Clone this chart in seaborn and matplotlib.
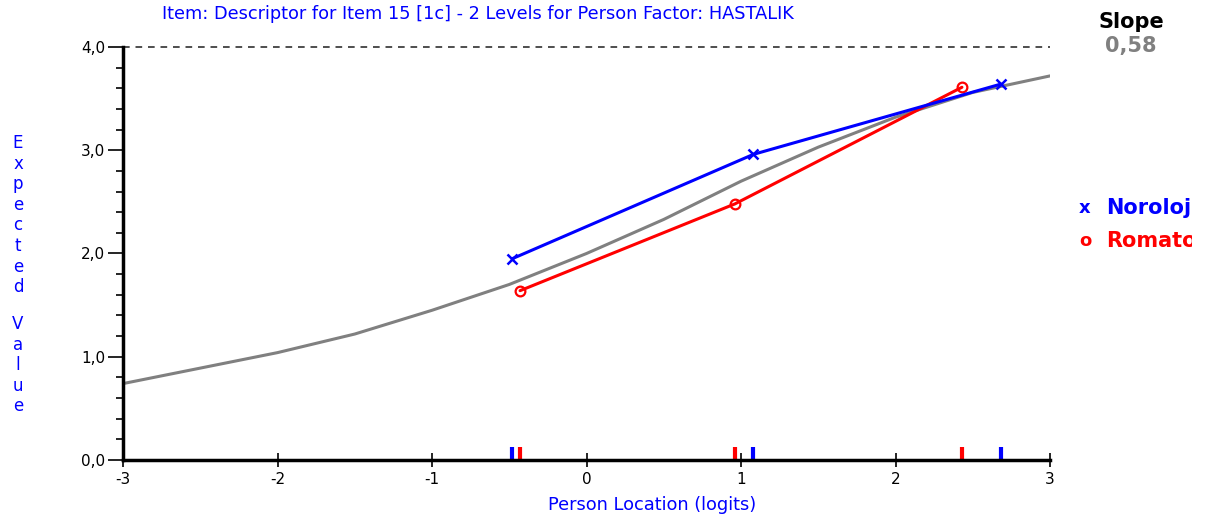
import numpy as np
import pandas as pd
import seaborn as sns
import matplotlib.pyplot as plt
from matplotlib.ticker import MultipleLocator, FuncFormatter
from matplotlib.transforms import Bbox

# expected value curve (model ICC)
icc_x = [-3.0, -2.5, -2.0, -1.5, -1.0, -0.5, 0.0, 0.5, 1.0, 1.5, 2.0, 2.5, 3.0]
icc_y = [0.74, 0.89, 1.04, 1.22, 1.45, 1.70, 2.00, 2.33, 2.70, 3.03, 3.32, 3.56, 3.72]

# observed class means per group
noro_x = [-0.48, 1.08, 2.68]
noro_y = [1.95, 2.96, 3.64]
roma_x = [-0.43, 0.96, 2.43]
roma_y = [1.64, 2.48, 3.61]

group_names = ["Noroloji", "Romatoloji"]
slope_txt = "0,58"
title_txt = "Item: Descriptor for Item 15 [1c] - 2 Levels for Person Factor: HASTALIK"

BLUE = "#0000ff"
RED = "#ff0000"
GRAY = "#808080"

sns.set_style("white")
plt.rcParams['font.family'] = ['DejaVu Sans']

W, H = 1207, 519
fig = plt.figure(figsize=(W/100, H/100), dpi=100)
ax = fig.add_axes([123/W, 1-460/H, (1050-123)/W, (460-47)/H])

icc = pd.DataFrame({"x": icc_x, "y": icc_y})
sns.lineplot(data=icc, x="x", y="y", color=GRAY, lw=2.2, ax=ax, zorder=2)
sns.lineplot(x=roma_x, y=roma_y, color=RED, lw=2.2, marker="o", markersize=7,
             markerfacecolor="none", markeredgecolor=RED, markeredgewidth=1.6, ax=ax, zorder=3)
sns.lineplot(x=noro_x, y=noro_y, color=BLUE, lw=2.2, marker="x", markersize=7,
             markeredgecolor=BLUE, markeredgewidth=1.8, ax=ax, zorder=4)

sns.rugplot(x=noro_x, height=0.032, color=BLUE, linewidth=3, ax=ax, clip_on=False)
sns.rugplot(x=roma_x, height=0.032, color=RED, linewidth=3, ax=ax, clip_on=False)

ax.axhline(4.0, color="#303030", lw=1.2, ls=(0, (4, 3.5)), zorder=1, clip_on=False)

ax.set_xlim(-3, 3)
ax.set_ylim(0, 4)
ax.set_xlabel("")
ax.set_ylabel("")
for s in ["top", "right"]:
    ax.spines[s].set_visible(False)
for s in ["left", "bottom"]:
    ax.spines[s].set_color("black")
    ax.spines[s].set_linewidth(2.5)

ax.xaxis.set_major_locator(MultipleLocator(1))
ax.yaxis.set_major_locator(MultipleLocator(1))
ax.yaxis.set_minor_locator(MultipleLocator(0.2))
ax.yaxis.set_major_formatter(FuncFormatter(lambda v, p: f"{v:.1f}".replace(".", ",")))
ax.xaxis.set_major_formatter(FuncFormatter(lambda v, p: f"{v:.0f}"))
ax.tick_params(axis="y", which="major", direction="out", length=11, width=1.2, labelsize=11,
               pad=2, left=True, color="black", labelcolor="black")
ax.tick_params(axis="y", which="minor", direction="out", length=5, width=1.2, left=True, color="black")
ax.tick_params(axis="x", which="major", direction="inout", length=10, width=1.2, labelsize=11,
               pad=4, bottom=True, color="black", labelcolor="black")

fig.text(478/W, 1-14/H, title_txt, color=BLUE, fontsize=12.8, ha="center", va="center")
fig.text(652/W, 1-505/H, "Person Location (logits)", color=BLUE, fontsize=12.8, ha="center", va="center")
for i, ch in enumerate("Expected"):
    fig.text(18/W, 1-(143 + 20.6*i)/H, ch, color=BLUE, fontsize=12, ha="center", va="center")
for i, ch in enumerate("Value"):
    fig.text(18/W, 1-(324 + 20.6*i)/H, ch, color=BLUE, fontsize=12, ha="center", va="center")

fig.text(1131/W, 1-22/H, "Slope", color="black", fontsize=15, fontweight="bold", ha="center", va="center")
fig.text(1131/W, 1-46/H, slope_txt, color=GRAY, fontsize=15, fontweight="bold", ha="center", va="center")

# legend text is cut at the right, as in the original window
clip = Bbox([[0, 0], [1192, H]])
for i, (name, col, mk) in enumerate(zip(group_names, [BLUE, RED], ["x", "o"])):
    yy = 1 - (208 + 33*i)/H
    fig.text(1085/W, yy, mk, color=col, fontsize=13, fontweight="bold", ha="center", va="center")
    t = fig.text(1106/W, yy, name, color=col, fontsize=15, fontweight="bold", ha="left", va="center")
    t.set_clip_box(clip)
    t.set_clip_on(True)

fig.savefig("out.png", dpi=100)
